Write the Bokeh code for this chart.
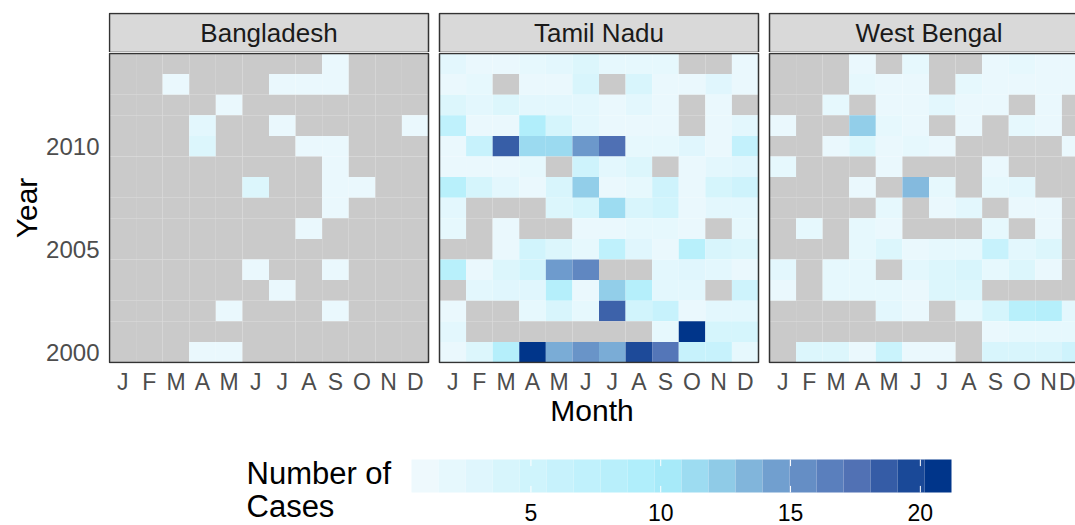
import numpy as np
from bokeh.plotting import figure
from bokeh.layouts import column
from bokeh.models import ColumnDataSource, Range1d, FixedTicker, CustomJSTickFormatter
from bokeh.transform import linear_cmap
from bokeh.core.properties import value
from bokeh.embed import file_html
from bokeh.resources import INLINE

N = None
years = list(range(2000, 2015))
month_labels = ["J", "F", "M", "A", "M", "J", "J", "A", "S", "O", "N", "D"]
regions = ["Bangladesh", "Tamil Nadu", "West Bengal"]
year_ticks = [2000, 2005, 2010]

# rows listed from top (2014) to bottom (2000); None = no data
bangladesh = [
    [N, N, N, N, N, N, N, N, 1, N, N, N],
    [N, N, 1, N, N, N, 1, 1, 1, N, N, N],
    [N, N, N, N, 1, N, N, N, N, N, N, N],
    [N, N, N, 2, N, N, 1, N, N, N, N, 1],
    [N, N, N, 3, N, N, N, 1, 1, N, N, N],
    [N, N, N, N, N, N, N, N, 1, N, N, N],
    [N, N, N, N, N, 3, N, N, 1, 1, N, N],
    [N, N, N, N, N, N, N, N, 1, N, N, N],
    [N, N, N, N, N, N, N, 1, N, N, N, N],
    [N, N, N, N, N, N, N, N, N, N, N, N],
    [N, N, N, N, N, 1, N, N, 1, N, N, N],
    [N, N, N, N, N, N, 1, N, N, N, N, N],
    [N, N, N, N, 1, N, N, N, 1, N, N, N],
    [N, N, N, N, N, N, N, N, N, N, N, N],
    [N, N, N, 1, 1, N, N, N, N, N, N, N],
]
tamil_nadu = [
    [2, 1, 1, 1.5, 2, 3, 1.5, 1.5, 1.5, N, N, 1],
    [1, 1.5, N, 1, 1, 3.5, N, 3.5, 1, 1, 2.5, 1],
    [3, 2, 3, 2, 2, 2, 1, 2, 1, N, 1, N],
    [7, 1, 1, 9, 4, 2, 1, 1, 1, N, 1, 2],
    [1, 6, 19, 11.5, 11.5, 15, 18, 1.5, 1.5, 2.5, 1, 6.5],
    [1, 1, 1, 1.5, N, 5, 2, 3, N, 1, 2, 2.5],
    [8, 4, 2, 1, 3.5, 12.3, 1, 1.5, 5, 1, 4, 5],
    [2, N, N, N, 3, 4, 11.3, 3.5, 4.5, 1, 2, 2],
    [1.5, N, 1, N, N, 1, 1, 1.5, 1.5, 1, N, 1.5],
    [N, N, 1, 4.5, 3, 1.5, 7, 2.5, 1, 8, 3.5, 3],
    [8, 1, 3, 4.5, 14.8, 16.3, N, N, 2, 2.5, 2, 1],
    [N, 2, 2.5, 2.5, 8.5, 1, 12.3, 8.5, 2, 2, N, 5],
    [1, N, N, 1.5, 3.5, 1.5, 18.7, 4.5, 6, 1, 2, 2],
    [2, N, N, N, N, N, N, N, 1.5, 21.2, 4, 4],
    [1, 3, 8.5, 21.2, 14, 15.3, 14, 20, 17.5, 6, 6, 1.5],
]
west_bengal = [
    [N, N, N, 1, N, 1.5, N, N, 1, 1.5, 1, 1],
    [N, N, N, 1.5, 1, 1, N, 1.5, 1, 1, 1, 1],
    [N, N, 1.5, N, 1, 1, 2, 1, 1, N, 1, N],
    [1, N, N, 12.3, 1.5, 1, N, 1, N, 1.5, 1, N],
    [N, N, 1, 3, 1, 1.5, 1, N, N, N, N, 1],
    [1.5, N, N, N, 1, N, N, N, 1, N, N, N],
    [N, N, N, 1, N, 13.3, 1.5, N, 1.5, 2, N, N],
    [N, N, N, N, 1.5, N, 1, 2, N, 1, 1, N],
    [N, 1.5, N, 1.5, 1, N, N, N, 1.5, N, 1, N],
    [N, N, N, 1.5, 3, 1, 1.5, 1.5, 6, 2, 3, N],
    [2, N, 1.5, 1.5, N, 2, 3, 3.5, 1.5, 3, 1, N],
    [1, N, 1.5, 1.5, 1.5, 1, 3, 3, N, N, N, N],
    [N, N, N, N, 2, 1, N, 1.5, 4, 8, 8.5, 2],
    [N, N, N, N, N, N, N, N, 1, 1.5, 1.5, 1.5],
    [N, 3, 3, 1, 5.5, 1, 1, N, 3.5, 3.5, 3.5, 5],
]
region_rows = {"Bangladesh": bangladesh, "Tamil Nadu": tamil_nadu, "West Bengal": west_bengal}

legend_title = "Number of\nCases"
legend_ticks = [5, 10, 15, 20]
value_min, value_max = 0.4, 21.2

# ---------- colour scale ----------
stops = [(0.0, (238, 249, 253)), (0.4615, (170, 237, 251)), (0.5577, (150, 212, 236)),
         (0.7019, (108, 152, 203)), (0.846, (80, 112, 180)), (1.0, (0, 53, 138))]


def make_palette(stops, n=256):
    pos = [s[0] for s in stops]
    cols = np.array([s[1] for s in stops], dtype=float)
    t = np.linspace(0, 1, n)
    chans = [np.interp(t, pos, cols[:, c]) for c in range(3)]
    return ["#%02x%02x%02x" % (int(round(r)), int(round(g)), int(round(b)))
            for r, g, b in zip(*chans)]


palette = make_palette(stops)
NA_COLOR = "#cacaca"
FONT = "Liberation Sans"

# ---------- geometry ----------
W = 1075
ppx = 319 / 12          # px per month
ppy = 309 / 15          # px per year
gap = 11 / ppx
stride = 12 + gap
left_px = 108
x_start = 0.5 - 1 / ppx
x_end = x_start + (W - left_px) / ppx
xr = Range1d(x_start, x_end)
yr = Range1d(years[0] - 0.5 - 1 / ppy, years[-1] + 0.5 + 1 / ppy)

# ---------- cell data ----------
xs, ys, vs = [], [], []
top_down_years = years[::-1]
for k, reg in enumerate(regions):
    for i, row in enumerate(region_rows[reg]):
        for m, v in enumerate(row, start=1):
            xs.append(k * stride + m)
            ys.append(top_down_years[i])
            vs.append(np.nan if v is None else float(v))
cells = ColumnDataSource(dict(x=xs, y=ys, v=vs))

panels = ColumnDataSource(dict(
    left=[k * stride + 0.5 for k in range(len(regions))],
    right=[k * stride + 12.5 for k in range(len(regions))],
    center=[k * stride + 6.5 for k in range(len(regions))],
    name=regions,
))

# ---------- strip figure ----------
s = figure(width=W, height=52, x_range=xr, y_range=Range1d(0, 1.025),
           output_backend="svg", toolbar_location=None,
           x_axis_location=None, y_axis_location=None,
           min_border_left=left_px, min_border_right=0, min_border_top=12, min_border_bottom=0)
s.grid.visible = False
s.outline_line_color = None
s.quad(left="left", right="right", bottom=0, top=1, source=panels,
       fill_color="#d9d9d9", line_color="#333333", line_width=1.5)
s.text(x="center", y=0.5, text="name", source=panels, text_align="center",
       text_baseline="middle", text_font=value(FONT), text_font_size="26px",
       text_color="#1a1a1a")

# ---------- main figure ----------
p = figure(width=W, height=378, x_range=xr, y_range=yr,
           output_backend="svg", toolbar_location=None,
           min_border_left=left_px, min_border_right=0, min_border_top=0, min_border_bottom=67)
p.grid.visible = False
p.outline_line_color = None
p.rect(x="x", y="y", width=1, height=1, source=cells,
       fill_color=linear_cmap("v", palette, value_min, value_max, nan_color=NA_COLOR),
       line_color=None)
p.quad(left="left", right="right", bottom=years[0] - 0.5, top=years[-1] + 0.5, source=panels,
       fill_color=None, line_color="#333333", line_width=1.5)

xticks = [k * stride + m for k in range(len(regions)) for m in range(1, 13)]
p.xaxis.ticker = FixedTicker(ticks=xticks)
p.xaxis.formatter = CustomJSTickFormatter(args=dict(labels=month_labels, stride=stride), code="""
const k = Math.floor(tick / stride);
const m = Math.round(tick - k * stride);
return labels[m - 1];
""")
p.yaxis.ticker = FixedTicker(ticks=year_ticks)
p.xaxis.axis_label = "Month"
p.yaxis.axis_label = "Year"
for ax in (p.xaxis, p.yaxis):
    ax.axis_line_color = None
    ax.major_tick_line_color = None
    ax.minor_tick_line_color = None
    ax.major_tick_out = 0
    ax.major_tick_in = 0
    ax.minor_tick_out = 0
    ax.major_label_text_font = FONT
    ax.major_label_text_font_size = "23px"
    ax.major_label_text_color = "#4d4d4d"
    ax.axis_label_text_font = FONT
    ax.axis_label_text_font_size = "30px"
    ax.axis_label_text_font_style = "normal"
    ax.axis_label_text_color = "#000000"
    ax.axis_label_standoff = 0
p.yaxis.major_label_text_font_size = "24px"
p.xaxis.major_label_standoff = 5
p.xaxis.axis_label_standoff = -4
p.yaxis.major_label_standoff = 9

# ---------- legend figure ----------
HL = 95
ppl = 540 / (value_max - value_min)
bar_left_px = 411
lx0 = value_min - (bar_left_px - left_px) / ppl
lx1 = lx0 + (W - left_px) / ppl
lg = figure(width=W, height=HL, x_range=Range1d(lx0, lx1), y_range=Range1d(HL, 0),
            output_backend="svg", toolbar_location=None,
            x_axis_location=None, y_axis_location=None,
            min_border_left=left_px, min_border_right=0, min_border_top=0, min_border_bottom=0)
lg.grid.visible = False
lg.outline_line_color = None

nbin = 20
edges = np.linspace(value_min, value_max, nbin + 1)
bin_vals = np.linspace(value_min, value_max, nbin)
bar_top, bar_bot = 29, 62
bins = ColumnDataSource(dict(left=edges[:-1], right=edges[1:], v=bin_vals))
lg.quad(left="left", right="right", top=bar_top, bottom=bar_bot, source=bins,
        fill_color=linear_cmap("v", palette, value_min, value_max), line_color=None)
tick_len = (bar_bot - bar_top) / 5
lg.segment(x0=legend_ticks, x1=legend_ticks, y0=bar_top, y1=bar_top + tick_len,
           line_color="white", line_width=1)
lg.segment(x0=legend_ticks, x1=legend_ticks, y0=bar_bot - tick_len, y1=bar_bot,
           line_color="white", line_width=1)
lg.text(x=legend_ticks, y=73, text=[str(t) for t in legend_ticks], text_align="center",
        text_baseline="top", text_font=value(FONT), text_font_size="23px", text_color="#000000")
lg.text(x=[lx0 + (246 - left_px) / ppl], y=[25], text=[legend_title], text_align="left",
        text_baseline="top", text_font=value(FONT), text_font_size="31px",
        text_line_height=0.95, text_color="#000000")

layout = column(s, p, lg, spacing=0)
open("out.html", "w").write(file_html(layout, INLINE))
